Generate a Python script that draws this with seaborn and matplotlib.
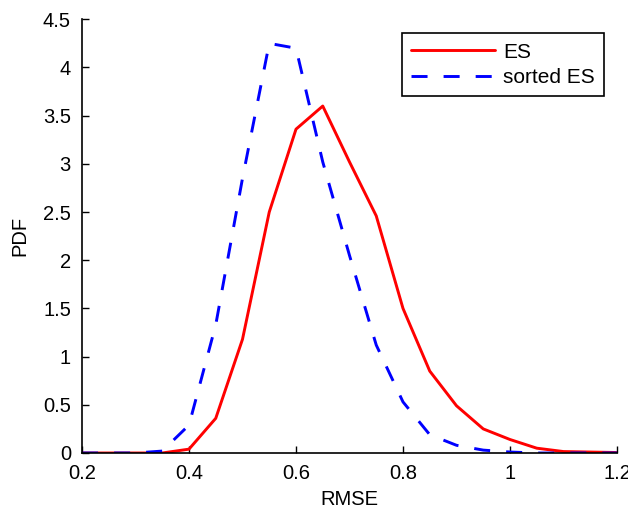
import numpy as np
import pandas as pd
import matplotlib
matplotlib.use("Agg")
import matplotlib.pyplot as plt
import seaborn as sns

rmse = [0.2, 0.25, 0.3, 0.35, 0.4, 0.45, 0.5, 0.55, 0.6, 0.65, 0.7,
        0.75, 0.8, 0.85, 0.9, 0.95, 1.0, 1.05, 1.1, 1.15, 1.2]
pdf_es = [0.0, 0.0, 0.0, 0.0, 0.04, 0.36, 1.18, 2.50, 3.36, 3.60, 3.02,
          2.46, 1.50, 0.85, 0.49, 0.25, 0.14, 0.05, 0.015, 0.01, 0.005]
pdf_sorted = [0.0, 0.0, 0.0, 0.02, 0.29, 1.33, 2.85, 4.25, 4.20, 3.02, 2.05,
              1.12, 0.53, 0.19, 0.08, 0.03, 0.01, 0.0, 0.0, 0.0, 0.0]
series_names = ["ES", "sorted ES"]
x_ticks = [0.2, 0.4, 0.6, 0.8, 1.0, 1.2]
x_tick_labels = ["0.2", "0.4", "0.6", "0.8", "1", "1.2"]
y_ticks = [0, 0.5, 1, 1.5, 2, 2.5, 3, 3.5, 4, 4.5]
y_tick_labels = ["0", "0.5", "1", "1.5", "2", "2.5", "3", "3.5", "4", "4.5"]

df = pd.DataFrame({
    "RMSE": rmse * 2,
    "PDF": pdf_es + pdf_sorted,
    "series": [series_names[0]] * len(rmse) + [series_names[1]] * len(rmse),
})

sns.set_style("ticks")
plt.rcParams["font.family"] = ["Liberation Sans", "DejaVu Sans"]
plt.rcParams["text.color"] = "black"
plt.rcParams["axes.labelcolor"] = "black"

fig = plt.figure(figsize=(6.28, 5.13), dpi=100)
ax = fig.add_axes([82 / 628, 60 / 513, 535 / 628, 433.7 / 513])

sns.lineplot(data=df, x="RMSE", y="PDF", hue="series", style="series",
             palette={"ES": "#ff0000", "sorted ES": "#0000ff"},
             dashes={"ES": "", "sorted ES": (5.5, 5.5)},
             linewidth=2.1, ax=ax, legend=True)

ax.set_xlim(0.2, 1.2)
ax.set_ylim(0, 4.5)
ax.set_xticks(x_ticks)
ax.set_xticklabels(x_tick_labels)
ax.set_yticks(y_ticks)
ax.set_yticklabels(y_tick_labels)
ax.tick_params(direction="in", length=5, width=1, labelsize=14.5, colors="black", pad=8)
ax.set_xlabel("RMSE", fontsize=14.5, labelpad=5, color="black")
ax.set_ylabel("PDF", fontsize=14.5, labelpad=10, color="black")
for s in ["top", "right"]:
    ax.spines[s].set_visible(False)
for s in ["left", "bottom"]:
    ax.spines[s].set_color("black")
    ax.spines[s].set_linewidth(1.2)

leg = ax.legend(loc="upper right", bbox_to_anchor=(0.976, 0.968), borderaxespad=0,
                fontsize=15, frameon=True, fancybox=False, handlelength=4.0,
                handletextpad=0.4, edgecolor="black", framealpha=1,
                borderpad=0.45, labelspacing=0.3)
leg.get_frame().set_linewidth(1.2)
for line in leg.get_lines():
    line.set_linewidth(2.1)
for t in leg.get_texts():
    t.set_color("black")

fig.savefig("out.png", dpi=100)
